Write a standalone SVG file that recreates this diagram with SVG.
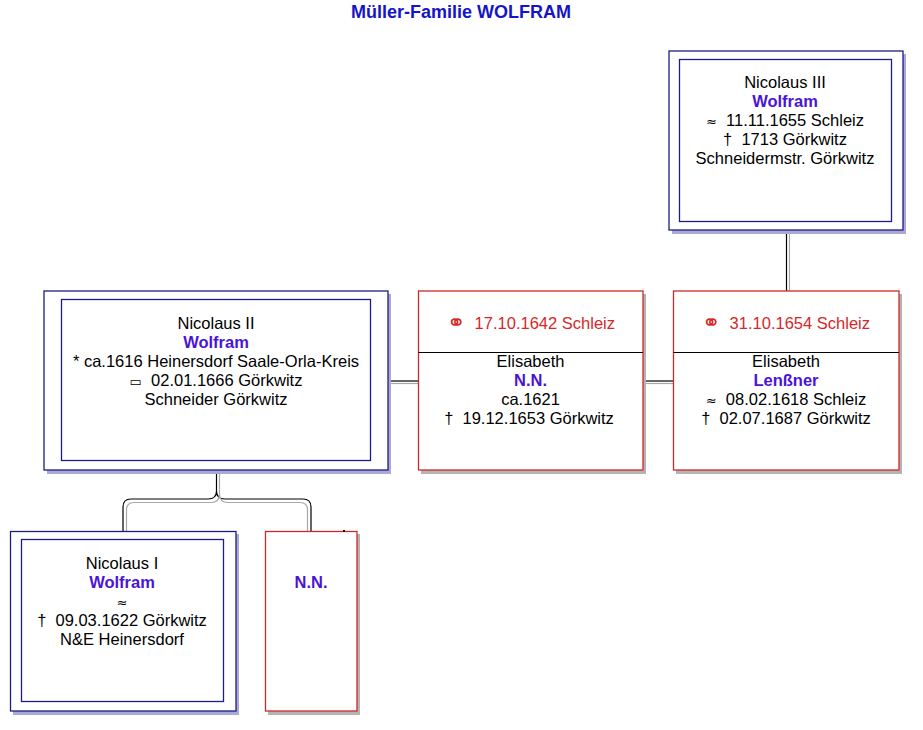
<svg xmlns="http://www.w3.org/2000/svg" width="923" height="730" viewBox="0 0 923 730">
<style>
text{font-family:"Liberation Sans","DejaVu Sans",sans-serif;font-size:16.5px;text-anchor:middle;fill:#000;white-space:pre}
.title{font-size:18px;font-weight:bold;fill:#1414c8}
.sur{font-weight:bold;fill:#4a14d8}
.mar{fill:#d42828}
.sym{font-family:"DejaVu Sans",sans-serif;font-size:13px}
.ring{font-family:"DejaVu Sans",sans-serif;font-size:22px;fill:#d42828}
.sb{fill:#a9a9d4}
.sr{fill:#b4b4b4}
.ob{fill:#fff;stroke:#1c1c8c;stroke-width:1.3}
.or{fill:#fff;stroke:#cc2a2a;stroke-width:1.3}
.blk{fill:none;stroke:#000;stroke-width:1.2}
.gry{fill:none;stroke:#a8a8a8;stroke-width:1.2}
</style>
<rect width="923" height="730" fill="#fff"/>
<text class="title" x="461" y="18">Müller-Familie WOLFRAM</text>

<g id="connectors">
<path class="blk" d="M786.5,231 V291"/>
<path class="gry" d="M789.5,233 V291"/>
<path class="blk" d="M391,381 H418"/>
<path class="gry" d="M391,383.5 H418"/>
<path class="blk" d="M645,381 H673"/>
<path class="gry" d="M645,383.5 H673"/>
<path class="blk" d="M216.5,472 V491 Q216.5,499 208,499 H131 Q123,499 123,507 V531 M216.5,491 Q216.5,499 225,499 H303 Q311,499 311,507 V531"/>
<path class="gry" d="M219.5,472 V494 Q219.5,502.5 211,502.5 H134 Q126.5,502.5 126.5,510 V531 M219.5,494 Q219.5,502.5 228,502.5 H300 Q307.5,502.5 307.5,510 V531"/>
</g>

<g id="nicolaus3">
<rect class="sb" x="672" y="54" width="234" height="180"/>
<rect class="ob" x="669" y="51" width="234" height="179"/>
<rect class="ob" x="679.5" y="59.5" width="212" height="162"/>
<text x="785" y="88">Nicolaus III</text>
<text class="sur" x="785" y="107">Wolfram</text>
<text x="785" y="126"><tspan class="sym">≈</tspan>  11.11.1655 Schleiz</text>
<text x="785" y="145">†  1713 Görkwitz</text>
<text x="785" y="164">Schneidermstr. Görkwitz</text>
</g>

<g id="nicolaus2">
<rect class="sb" x="47" y="294" width="344" height="180"/>
<rect class="ob" x="44" y="291" width="344" height="179"/>
<rect class="ob" x="61.5" y="299.5" width="309" height="161"/>
<text x="216" y="329">Nicolaus II</text>
<text class="sur" x="216" y="348">Wolfram</text>
<text x="216" y="367">* ca.1616 Heinersdorf Saale-Orla-Kreis</text>
<text x="216" y="386"><tspan class="sym">▭</tspan>  02.01.1666 Görkwitz</text>
<text x="216" y="405">Schneider Görkwitz</text>
</g>

<g id="marriage1">
<rect class="sr" x="421" y="294" width="225" height="180"/>
<rect class="or" x="418.5" y="291" width="224.5" height="179"/>
<line x1="418.5" y1="352.5" x2="643" y2="352.5" stroke="#000" stroke-width="1.2"/>
<text class="mar" x="531" y="329"><tspan class="ring" dy="1">⚭</tspan><tspan dy="-1">  17.10.1642 Schleiz</tspan></text>
<text x="530.5" y="367">Elisabeth</text>
<text class="sur" x="530.5" y="386">N.N.</text>
<text x="530.5" y="405">ca.1621</text>
<text x="529" y="424">†  19.12.1653 Görkwitz</text>
</g>

<g id="marriage2">
<rect class="sr" x="676" y="294" width="226" height="180"/>
<rect class="or" x="673.5" y="291" width="225.5" height="179"/>
<line x1="673.5" y1="352.5" x2="899" y2="352.5" stroke="#000" stroke-width="1.2"/>
<text class="mar" x="786" y="329"><tspan class="ring" dy="1">⚭</tspan><tspan dy="-1">  31.10.1654 Schleiz</tspan></text>
<text x="786" y="367">Elisabeth</text>
<text class="sur" x="786" y="386">Lenßner</text>
<text x="786" y="405"><tspan class="sym">≈</tspan>  08.02.1618 Schleiz</text>
<text x="786" y="424">†  02.07.1687 Görkwitz</text>
</g>

<g id="nicolaus1">
<rect class="sb" x="13" y="534" width="226" height="181"/>
<rect class="ob" x="10.5" y="531.5" width="225.5" height="179.5"/>
<rect class="ob" x="21.5" y="539.5" width="202" height="162"/>
<text x="122" y="569">Nicolaus I</text>
<text class="sur" x="122" y="588">Wolfram</text>
<text x="122" y="607"><tspan class="sym">≈</tspan></text>
<text x="122" y="626">†  09.03.1622 Görkwitz</text>
<text x="122" y="645">N&amp;E Heinersdorf</text>
</g>

<g id="nn">
<rect class="sr" x="268" y="534" width="92" height="181"/>
<rect class="or" x="265.5" y="531.5" width="91.5" height="179.5"/>
<rect x="343" y="530" width="2" height="2" fill="#000"/>
<text class="sur" x="311" y="588">N.N.</text>
</g>
</svg>
